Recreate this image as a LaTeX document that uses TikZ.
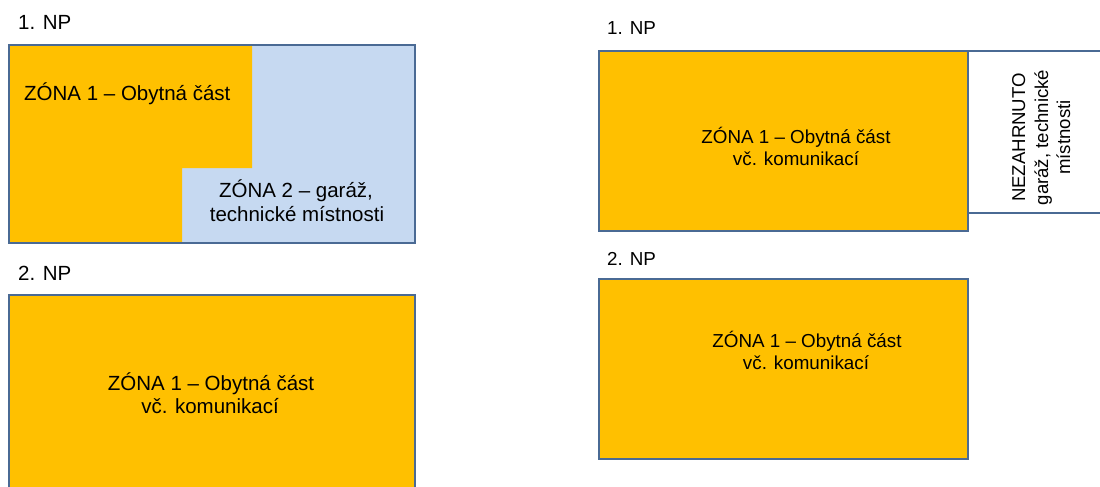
\documentclass[tikz,border=0pt]{standalone}
\usepackage{fontspec}
\setmainfont{Liberation Sans}
\definecolor{zoneor}{HTML}{FFC000}
\definecolor{zonebl}{HTML}{C6D9F1}
\definecolor{edgecol}{HTML}{4A6A94}
\begin{document}
\begin{tikzpicture}[x=1pt,y=-1pt,
  bigtxt/.style={inner sep=0pt, font=\fontsize{20.5}{24}\selectfont},
  smalltxt/.style={inner sep=0pt, font=\fontsize{18.8}{22}\selectfont},
  vtxt/.style={inner sep=0pt, rotate=90, anchor=base, font=\fontsize{18.6}{22}\selectfont},
  border/.style={draw=edgecol, line width=1.6pt}]
\useasboundingbox (0,0) rectangle (1100,487);
\clip (0,0) rectangle (1100,487);
% left, 1. NP
\node[bigtxt, anchor=base west] (l1np) at (18,30) {1. NP};
\fill[zonebl] (9,45) rectangle (415,243);
\fill[zoneor] (9,45) -- (252,45) -- (252,168) -- (182,168) -- (182,243) -- (9,243) -- cycle;
\draw[border] (9,45) rectangle (415,243);
\node[bigtxt, anchor=base west] (lz1) at (24,100) {ZÓNA 1 – Obytná část};
\node[bigtxt, anchor=base] (lz2a) at (296,197) {ZÓNA 2 – garáž,};
\node[bigtxt, anchor=base] (lz2b) at (297,221) {technické místnosti};
% left, 2. NP
\node[bigtxt, anchor=base west] (l2np) at (18,280) {2. NP};
\draw[border, fill=zoneor] (9,295) rectangle (415,500);
\node[bigtxt, anchor=base] (l2za) at (211,390) {ZÓNA 1 – Obytná část};
\node[bigtxt, anchor=base] (l2zb) at (210,413) {vč. komunikací};
% right, 1. NP
\node[smalltxt, anchor=base west] (r1np) at (607,35) {1. NP};
\draw[border, fill=zoneor] (599,51) rectangle (968,231);
\draw[border, fill=white] (968,51) rectangle (1115,213);
\node[smalltxt, anchor=base] (r1za) at (796,143) {ZÓNA 1 – Obytná část};
\node[smalltxt, anchor=base] (r1zb) at (796,165) {vč. komunikací};
\node[vtxt] (rna) at (1025,137.5) {NEZAHRNUTO};
\node[vtxt] (rnb) at (1048,137.5) {garáž, technické};
\node[vtxt] (rnc) at (1070,137.5) {místnosti};
% right, 2. NP
\node[smalltxt, anchor=base west] (r2np) at (607,265) {2. NP};
\draw[border, fill=zoneor] (599,279) rectangle (968,459);
\node[smalltxt, anchor=base] (r2za) at (807,347) {ZÓNA 1 – Obytná část};
\node[smalltxt, anchor=base] (r2zb) at (806,369) {vč. komunikací};
\end{tikzpicture}
\end{document}
